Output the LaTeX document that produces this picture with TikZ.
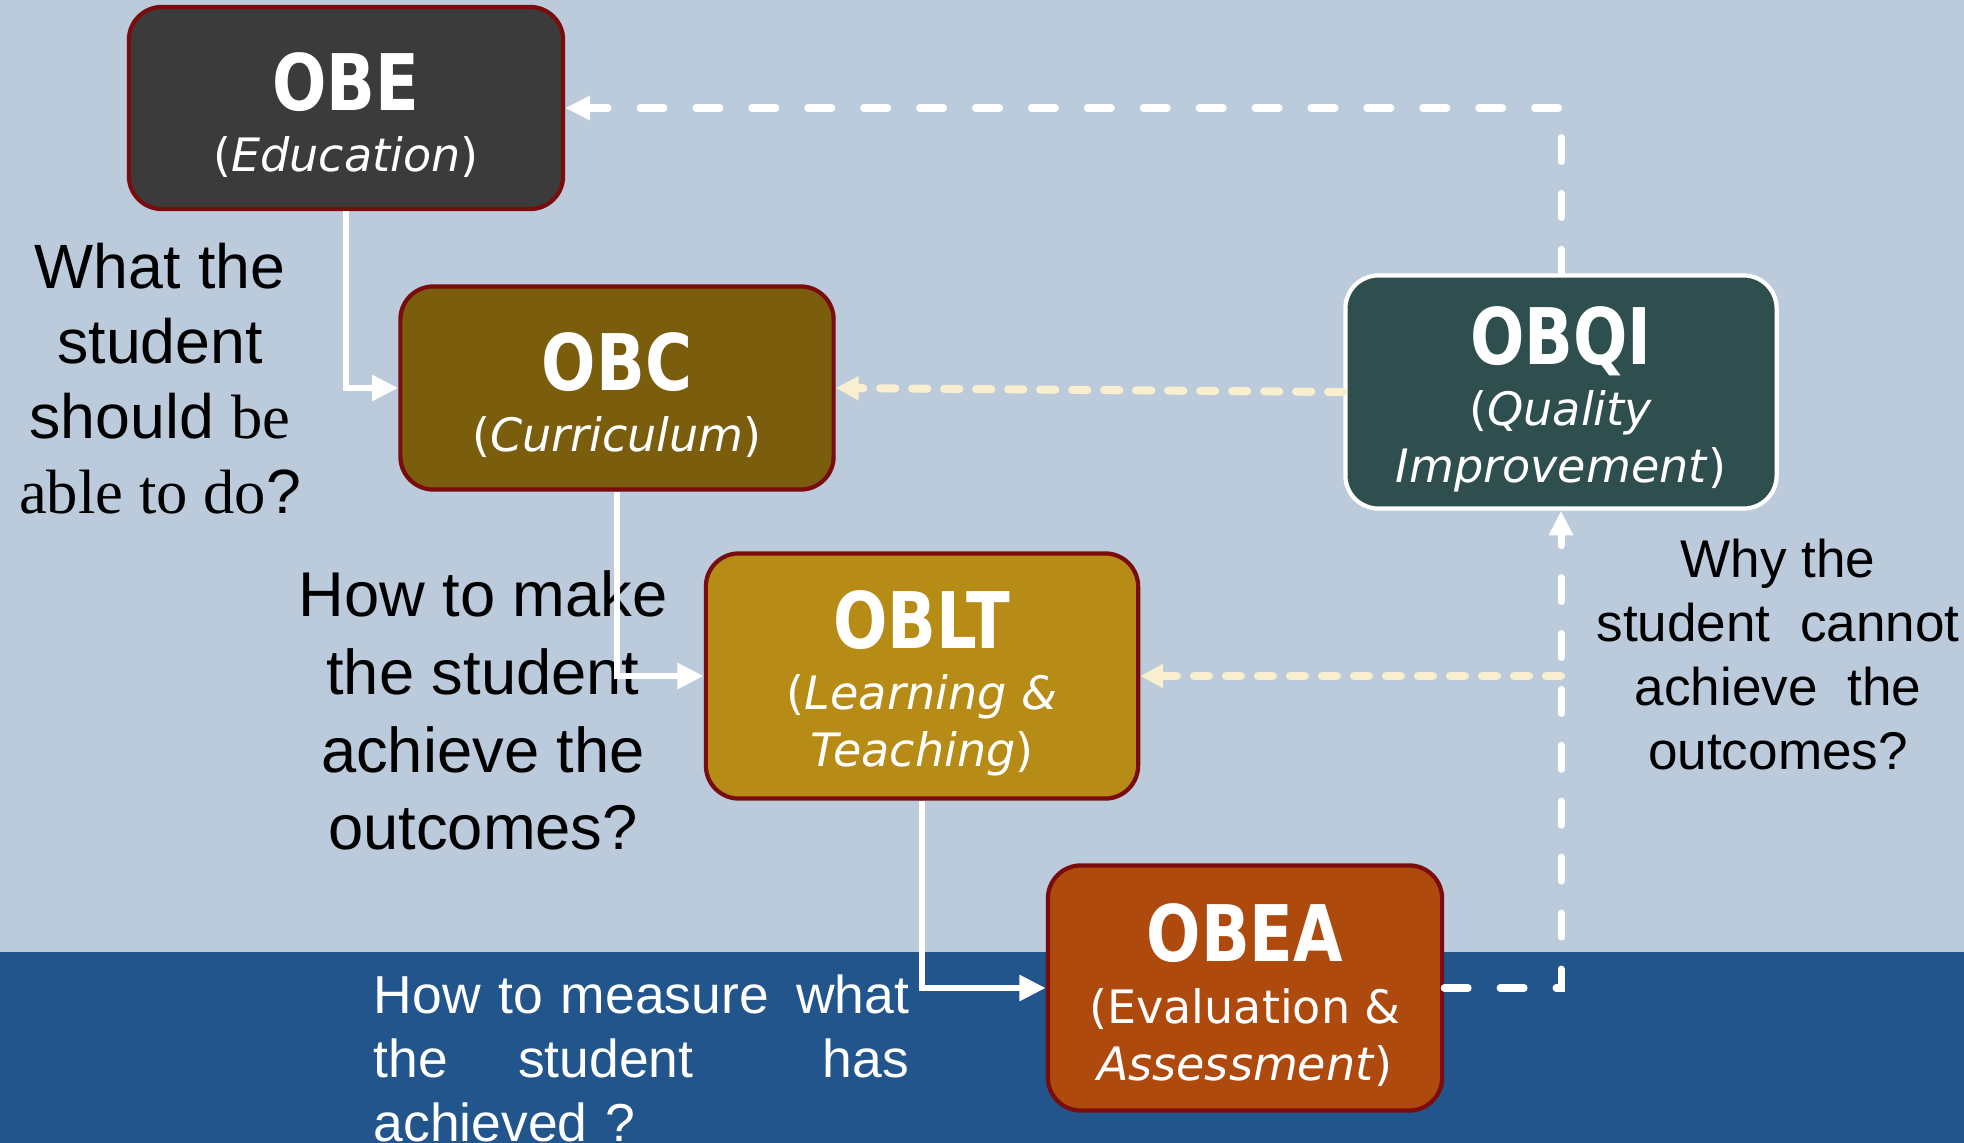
\documentclass[tikz,border=0pt]{standalone}
\usepackage{fontspec}
\usepackage{tikz}
\usetikzlibrary{arrows.meta}

\setmainfont{Liberation Sans}
\newfontfamily\timesfont{Liberation Serif}
\newfontfamily\boxfont{DejaVu Sans}
\newfontfamily\titlefont[FakeStretch=0.82]{DejaVu Sans}

\definecolor{bglight}{RGB}{187,203,220}
\definecolor{bgdark}{RGB}{33,85,140}
\definecolor{boxborder}{RGB}{122,12,12}
\definecolor{obecol}{RGB}{59,59,59}
\definecolor{obccol}{RGB}{122,94,14}
\definecolor{obltcol}{RGB}{183,140,22}
\definecolor{obeacol}{RGB}{175,74,15}
\definecolor{obqicol}{RGB}{47,79,79}
\definecolor{cream}{RGB}{249,239,206}

\newcommand{\boxtitle}[1]{{\titlefont\bfseries\fontsize{22.2}{26}\selectfont\rule{0pt}{20.5pt}#1}}

\tikzset{
	obbox/.style={draw=boxborder, line width=1.2pt, rounded corners=0.33cm,
		align=center, text=white, inner sep=0pt,
		font=\boxfont\fontsize{13.1}{16.2}\selectfont},
	qtext/.style={align=center, inner sep=0pt},
	flow/.style={draw=white, line width=1.9pt, -{Triangle[length=7.5pt,width=7pt]}},
	loopback/.style={draw=white, line width=2pt, line cap=round, dash pattern=on 6.8pt off 9.1pt,
		-{Triangle[length=7pt,width=6.5pt]}},
	feedback/.style={draw=cream, line width=2.3pt, line cap=round, dash pattern=on 4.3pt off 4.8pt,
		-{Triangle[length=6.5pt,width=6.5pt]}},
}

\begin{document}
\begin{tikzpicture}[x=0.01cm, y=-0.01cm]

	% background
	\useasboundingbox (0,0) rectangle (1964,1143);
	\fill[bglight] (0,0) rectangle (1964,952);
	\fill[bgdark] (0,952) rectangle (1964,1143);

	% boxes
	\node[obbox, fill=obecol, minimum width=4.34cm, minimum height=2.02cm] (OBE) at (346,108)
		{\boxtitle{OBE}\\[1.2pt](\textit{Education})};
	\node[obbox, fill=obccol, minimum width=4.33cm, minimum height=2.03cm] (OBC) at (617,388)
		{\boxtitle{OBC}\\[1.2pt](\textit{Curriculum})};
	\node[obbox, fill=obltcol, minimum width=4.32cm, minimum height=2.45cm] (OBLT) at (922,676)
		{\boxtitle{OBLT}\\[1.2pt](\textit{Learning \&}\\\textit{Teaching})};
	\node[obbox, fill=obeacol, minimum width=3.94cm, minimum height=2.45cm] (OBEA) at (1245,988)
		{\boxtitle{OBEA}\\[1.2pt](Evaluation \&\\\textit{Assessment})};
	\node[obbox, draw=white, fill=obqicol, minimum width=4.31cm, minimum height=2.33cm] (OBQI) at (1561,392)
		{\boxtitle{OBQI}\\[1.2pt](\textit{Quality}\\\textit{Improvement})};

	% questions
	\node[qtext, anchor=north, font=\fontsize{17.8}{21.4}\selectfont] (qwhat) at (160,242)
		{What the\\student\\should {\timesfont be}\\{\timesfont able to do}?};
	\node[qtext, anchor=north, font=\fontsize{18}{22.1}\selectfont] (qhow) at (483,570)
		{How to make\\the student\\achieve the\\outcomes?};
	\node[qtext, anchor=north, font=\fontsize{15.1}{18.2}\selectfont] (qwhy) at (1778,538)
		{Why the\\student\ \ cannot\\achieve\ \ the\\outcomes?};
	\node[anchor=north west, inner sep=0pt, text width=5.35cm, align=left, text=white,
		font=\fontsize{15.2}{18.2}\selectfont] (qmeasure) at (373,974)
		{How to measure\hfill what\\the\hspace{0.7cm}student\hfill has\\achieved ?};

	% main flow
	\draw[flow] (OBE.south) |- (OBC.west);
	\draw[flow] (OBC.south) |- (OBLT.west);
	\draw[flow] (OBLT.south) |- (OBEA.west);

	% loop back
	\draw[loopback] (OBEA.east) -| (OBQI.south);
	\draw[loopback] (OBQI.north) |- (OBE.east);

	% feedback
	\coordinate (fb) at (OBQI.south |- OBLT.east);
	\draw[feedback] (OBQI.west) -- (OBC.east);
	\draw[feedback] (fb) -- (OBLT.east);

\end{tikzpicture}
\end{document}
